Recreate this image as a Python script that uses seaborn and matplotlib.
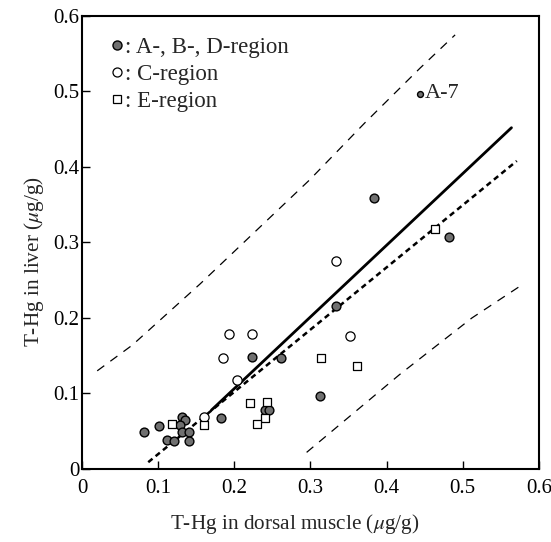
import matplotlib
matplotlib.use("Agg")
import matplotlib.pyplot as plt
import seaborn as sns
from matplotlib.lines import Line2D

# ---- data ----
abd_x = [0.383, 0.482, 0.333, 0.223, 0.262, 0.312, 0.183, 0.240, 0.246, 0.081,
         0.101, 0.131, 0.135, 0.129, 0.131, 0.140, 0.140, 0.112, 0.121]
abd_y = [0.359, 0.307, 0.216, 0.148, 0.147, 0.097, 0.067, 0.078, 0.078, 0.049,
         0.057, 0.069, 0.065, 0.058, 0.049, 0.049, 0.037, 0.038, 0.037]
a7_x = [0.444]
a7_y = [0.497]
c_x = [0.333, 0.193, 0.223, 0.352, 0.185, 0.203, 0.160]
c_y = [0.275, 0.179, 0.179, 0.176, 0.147, 0.118, 0.069]
e_x = [0.463, 0.314, 0.361, 0.220, 0.243, 0.240, 0.230, 0.160, 0.118]
e_y = [0.318, 0.147, 0.136, 0.087, 0.089, 0.068, 0.060, 0.058, 0.060]

solid_x = [0.170, 0.564]
solid_y = [0.078, 0.452]
dash_x = [0.087, 0.571]
dash_y = [0.009, 0.408]
upper_x = [0.020, 0.066, 0.155, 0.299, 0.371, 0.444, 0.490]
upper_y = [0.130, 0.164, 0.245, 0.383, 0.458, 0.531, 0.575]
lower_x = [0.295, 0.417, 0.512, 0.581]
lower_y = [0.022, 0.125, 0.200, 0.246]

tick_vals = [0, 0.1, 0.2, 0.3, 0.4, 0.5, 0.6]
tick_labels = ["0", "0.1", "0.2", "0.3", "0.4", "0.5", "0.6"]
legend_labels = [": A-, B-, D-region", ": C-region", ": E-region"]

sns.set_theme(style="ticks")
plt.rcParams["font.family"] = ["Liberation Serif", "DejaVu Serif"]
plt.rcParams["mathtext.fontset"] = "stix"

fig = plt.figure(figsize=(5.51, 5.42), dpi=100)
ax = fig.add_axes([0.1488, 0.1347, 0.8292, 0.8358])

# lines
sns.lineplot(x=upper_x, y=upper_y, ax=ax, color="black", lw=0.9,
             linestyle=(0, (7, 6)), sort=False)
sns.lineplot(x=lower_x, y=lower_y, ax=ax, color="black", lw=0.9,
             linestyle=(0, (7, 6)), sort=False)
sns.lineplot(x=solid_x, y=solid_y, ax=ax, color="black", lw=2.0, sort=False)
sns.lineplot(x=dash_x, y=dash_y, ax=ax, color="black", lw=1.8,
             linestyle=(0, (2.2, 1.6)), sort=False)

# points
sns.scatterplot(x=abd_x, y=abd_y, ax=ax, marker="o", s=40,
                color="#707070", edgecolor="black", linewidth=1.0, zorder=5)
sns.scatterplot(x=a7_x, y=a7_y, ax=ax, marker="o", s=18,
                color="#707070", edgecolor="black", linewidth=1.0, zorder=5)
sns.scatterplot(x=c_x, y=c_y, ax=ax, marker="o", s=44,
                facecolor="white", edgecolor="black", linewidth=0.9, zorder=5)
sns.scatterplot(x=e_x, y=e_y, ax=ax, marker="s", s=30,
                facecolor="white", edgecolor="black", linewidth=0.9, zorder=5)

ax.text(a7_x[0] + 0.006, a7_y[0], "A-7", fontsize=16, va="center", ha="left")

ax.set_xlim(0, 0.6)
ax.set_ylim(0, 0.6)
ax.set_xticks(tick_vals)
ax.set_xticklabels(tick_labels)
ax.set_yticks(tick_vals)
ax.set_yticklabels(tick_labels)
ax.tick_params(direction="in", length=6, width=1.0, labelsize=15,
               colors="black")
ax.tick_params(axis="x", pad=7)
ax.tick_params(axis="y", pad=2)
for sp in ax.spines.values():
    sp.set_linewidth(1.5)
    sp.set_color("black")
    sp.set_visible(True)

ax.set_xlabel(r"T-Hg in dorsal muscle ($\mu$g/g)", fontsize=15.3)
ax.set_ylabel(r"T-Hg in liver ($\mu$g/g)", fontsize=15.3)
ax.xaxis.set_label_coords(0.466, -0.095)
ax.yaxis.set_label_coords(-0.078, 0.457)

handles = [
    Line2D([], [], marker="o", ls="none", markersize=6.5,
           markerfacecolor="#707070", markeredgecolor="black"),
    Line2D([], [], marker="o", ls="none", markersize=6.5,
           markerfacecolor="white", markeredgecolor="black", markeredgewidth=0.9),
    Line2D([], [], marker="s", ls="none", markersize=5.5,
           markerfacecolor="white", markeredgecolor="black", markeredgewidth=0.9),
]
ax.legend(handles, legend_labels, loc="upper left",
          bbox_to_anchor=(0.039, 0.974), borderaxespad=0.0, borderpad=0.4,
          frameon=False, fontsize=16.5, handletextpad=0.0, handlelength=0.7,
          labelspacing=0.26)

fig.savefig("out.png", dpi=100)
